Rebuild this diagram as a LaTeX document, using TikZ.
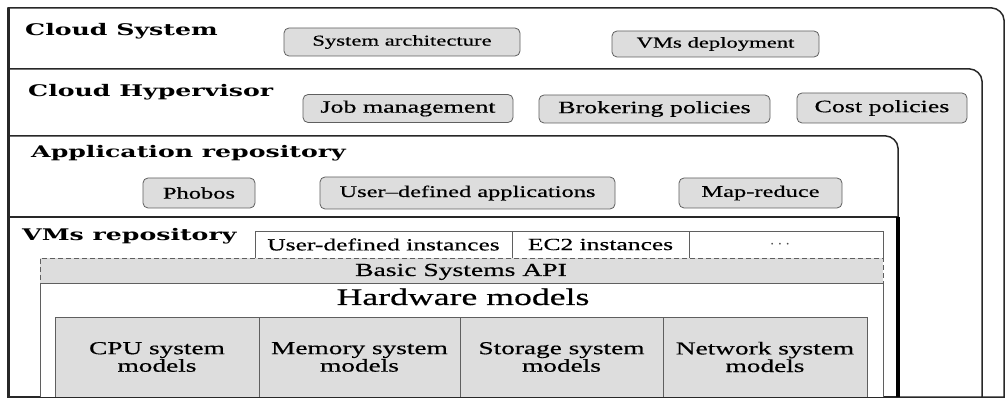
\documentclass[tikz,border=0pt]{standalone}
\usepackage{fontspec}
\setmainfont{Liberation Serif}[FakeStretch=1.5]
\newfontfamily\fA{Liberation Serif}[FakeStretch=1.5, FakeBold=0.5]
\newfontfamily\headfont{DejaVu Serif}[FakeStretch=1.575]
\definecolor{boxfill}{RGB}{221,221,221}
\definecolor{panelline}{RGB}{40,40,40}
\definecolor{boxline}{RGB}{95,95,95}
\begin{document}
\begin{tikzpicture}[x=1pt,y=-1pt,
  panel/.style={draw=panelline, line width=1.5pt, fill=white},
  head/.style={anchor=base west, inner sep=0pt, font=\headfont\bfseries\fontsize{16}{18}\selectfont},
  rbox/.style={draw=boxline, fill=boxfill, rounded corners=5pt, line width=0.8pt, inner sep=0pt, outer sep=0pt},
  rowA/.style={rbox, font=\fA\fontsize{15.1}{17}\selectfont},
  rowB/.style={rbox, font=\fA\fontsize{17.3}{19}\selectfont},
  rowC/.style={rbox, font=\fA\fontsize{16.3}{18}\selectfont},
  cell/.style={draw=boxline, line width=0.8pt, inner sep=0pt, outer sep=0pt, fill=white},
  tcell/.style={cell, font=\fA\fontsize{17}{19}\selectfont},
  mcell/.style={cell, fill=boxfill, align=center, font=\fA\fontsize{18.2}{13}\selectfont}
]
\useasboundingbox (0,0) rectangle (1005,398);

% layered panels
\draw[panel] (8,397) -- (8,8) -- (992,8) .. controls (997.4,8) and (1004,13.4) .. (1004,20) -- (1004,397) -- cycle;
\draw[panel] (8,397) -- (8,69) -- (970,69) .. controls (975.4,69) and (982,74.4) .. (982,81) -- (982,397) -- cycle;
\draw[panel] (8,397) -- (8,136) -- (886,136) .. controls (891.4,136) and (898,141.4) .. (898,148) -- (898,397) -- cycle;
\draw[panel] (8,217) rectangle (898,397);
\draw[line width=3.6pt, black] (898,217) -- (898,397);
\draw[line width=3pt, panelline] (8,8) -- (8,397);

% headings
\node[head] (cs) at (25,36) {Cloud System};
\node[head] (ch) at (28,97) {Cloud Hypervisor};
\node[head] (ar) at (31,158) {Application repository};
\node[head] (vr) at (22,241) {VMs repository};

% Cloud System row
\node[rowA, minimum width=236pt, minimum height=28pt] (sysarch) at (402,42) {System architecture};
\node[rowA, minimum width=207pt, minimum height=26pt] (vmsdep) at (715.5,44) {VMs deployment};

% Cloud Hypervisor row
\node[rowB, minimum width=210pt, minimum height=28pt] (jobm) at (408,108.5) {Job management};
\node[rowB, minimum width=231pt, minimum height=28pt] (brok) at (654.5,109) {Brokering policies};
\node[rowB, minimum width=170pt, minimum height=30pt] (cost) at (882,108) {Cost policies};

% Application repository row
\node[rowC, minimum width=112pt, minimum height=30pt] (phobos) at (199,193) {Phobos};
\node[rowC, minimum width=295pt, minimum height=32pt] (userapp) at (467.5,193) {User–defined applications};
\node[rowC, minimum width=163pt, minimum height=30pt] (mapred) at (760.5,193) {Map-reduce};

% VMs repository
\node[tcell, minimum width=257pt, minimum height=27pt] (udi) at (383.5,244.5) {User-defined instances};
\node[tcell, minimum width=177pt, minimum height=27pt] (ec2) at (600.5,244.5) {EC2 instances};
\node[tcell, minimum width=194pt, minimum height=27pt] (more) at (786,244.5) {};
\node[inner sep=0pt, font=\fontsize{17}{19}\selectfont, text=black!70] (dots) at (780,244.5) {$\cdots$};

\node[cell, minimum width=843pt, minimum height=114pt] (hw) at (461.5,340) {};
\node[cell, fill=boxfill, dashed, dash pattern=on 5pt off 3pt, minimum width=843pt, minimum height=25pt] (api) at (461.5,270.5) {};
\node[anchor=base, inner sep=0pt, font=\fA\fontsize{18.4}{20}\selectfont] (apit) at (461,276) {Basic Systems API};
\node[anchor=base, inner sep=0pt, font=\fA\fontsize{23.8}{26}\selectfont] (hwt) at (463,305) {Hardware models};

\node[mcell, minimum width=204pt, minimum height=80pt] (cpu) at (157,357) {CPU system\\models};
\node[mcell, minimum width=201pt, minimum height=80pt] (mem) at (359.5,357) {Memory system\\models};
\node[mcell, minimum width=203pt, minimum height=80pt] (sto) at (561.5,357) {Storage system\\models};
\node[mcell, minimum width=204pt, minimum height=80pt] (net) at (765,357) {Network system\\models};

\draw[line width=1pt, panelline] (8,397) -- (1005,397);
\end{tikzpicture}
\end{document}
